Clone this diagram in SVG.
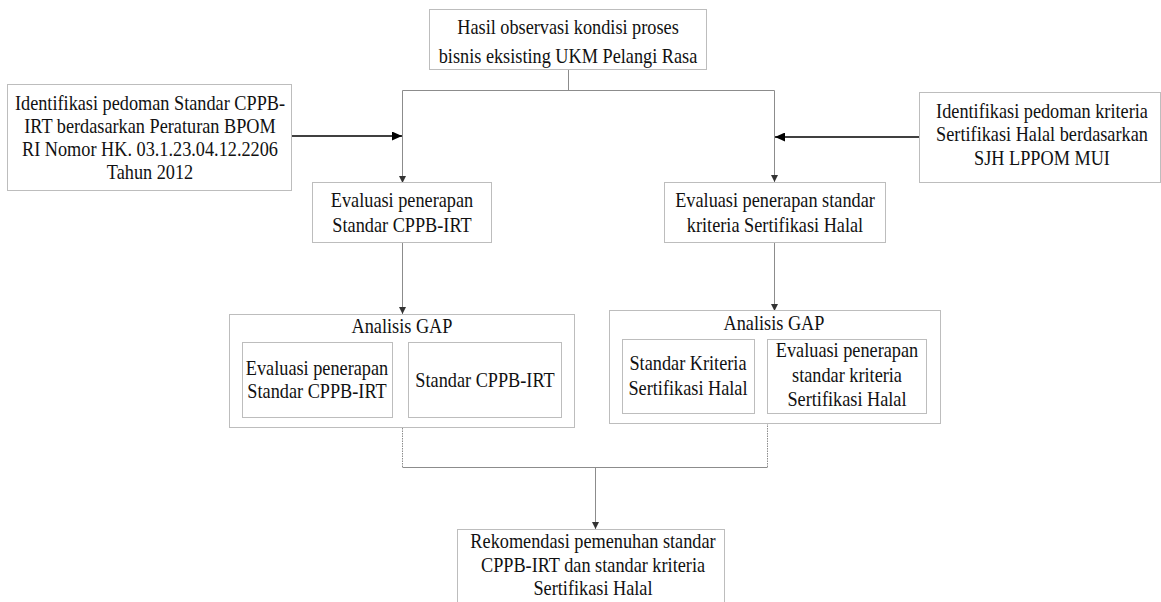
<svg xmlns="http://www.w3.org/2000/svg" width="1161" height="602" viewBox="0 0 1161 602">
<style>
.box{fill:#fff;stroke:#bdbdbd;stroke-width:1}
.t{font-family:"Liberation Serif","Times New Roman",serif;font-size:22px;fill:#111;text-anchor:middle}
.c{fill:none;stroke:#8c8c8c;stroke-width:1}
.d{fill:none;stroke:#8c8c8c;stroke-width:1;stroke-dasharray:1.5 1}
.k{fill:none;stroke:#000;stroke-width:1.5}
</style>
<defs>
<marker id="ag" markerUnits="userSpaceOnUse" markerWidth="7" markerHeight="7" refX="7" refY="3.5" orient="auto"><path d="M0,0 L7,3.5 L0,7 z" fill="#333"/></marker>
<marker id="ak" markerUnits="userSpaceOnUse" markerWidth="10" markerHeight="9" refX="10" refY="4.5" orient="auto"><path d="M0,0 L10,4.5 L0,9 z" fill="#000"/></marker>
</defs>
<rect width="1161" height="602" fill="#fff"/>
<g id="connectors">
<path class="c" d="M568.5,69 V90.5"/>
<path class="c" d="M402.5,90.5 H774.5"/>
<path class="c" d="M402.5,90.5 V183" marker-end="url(#ag)"/>
<path class="c" d="M774.5,90.5 V182" marker-end="url(#ag)"/>
<path class="k" d="M291,136 H402" marker-end="url(#ak)"/>
<path class="k" d="M919,137 H775" marker-end="url(#ak)"/>
<path class="c" d="M402.5,243 V314" marker-end="url(#ag)"/>
<path class="c" d="M774.5,243 V311" marker-end="url(#ag)"/>
<path class="d" d="M402.5,428 V467"/>
<path class="d" d="M767.5,423 V467"/>
<path class="c" d="M402.5,467.5 H767.5"/>
<path class="c" d="M595.5,467.5 V529" marker-end="url(#ag)"/>
</g>
<g id="n-top">
<rect class="box" x="429.5" y="9.5" width="277" height="60"/>
<text class="t" transform="translate(568,0) scale(0.83,1)"><tspan x="0" y="34">Hasil observasi kondisi proses</tspan><tspan x="0" y="63">bisnis eksisting UKM Pelangi Rasa</tspan></text>
</g>
<g id="n-left">
<rect class="box" x="7.5" y="84.5" width="284" height="106"/>
<text class="t" transform="translate(150,0) scale(0.83,1)"><tspan x="0" y="110">Identifikasi pedoman Standar CPPB-</tspan><tspan x="0" y="133">IRT berdasarkan Peraturan BPOM</tspan><tspan x="0" y="156">RI Nomor HK. 03.1.23.04.12.2206</tspan><tspan x="0" y="179">Tahun 2012</tspan></text>
</g>
<g id="n-right">
<rect class="box" x="919.5" y="92.5" width="241" height="90"/>
<text class="t" transform="translate(1042,0) scale(0.83,1)"><tspan x="0" y="118">Identifikasi pedoman kriteria</tspan><tspan x="0" y="141">Sertifikasi Halal berdasarkan</tspan><tspan x="0" y="165">SJH LPPOM MUI</tspan></text>
</g>
<g id="n-eval-cppb">
<rect class="box" x="312.5" y="182.5" width="179" height="60"/>
<text class="t" transform="translate(402,0) scale(0.83,1)"><tspan x="0" y="207">Evaluasi penerapan</tspan><tspan x="0" y="232">Standar CPPB-IRT</tspan></text>
</g>
<g id="n-eval-halal">
<rect class="box" x="664.5" y="182.5" width="221" height="60"/>
<text class="t" transform="translate(775,0) scale(0.83,1)"><tspan x="0" y="207">Evaluasi penerapan standar</tspan><tspan x="0" y="232">kriteria Sertifikasi Halal</tspan></text>
</g>
<g id="n-gap-cppb">
<rect class="box" x="229.5" y="314.5" width="345" height="113"/>
<text class="t" transform="translate(402,0) scale(0.83,1)"><tspan x="0" y="333">Analisis GAP</tspan></text>
<rect class="box" x="242.5" y="342.5" width="150" height="75"/>
<text class="t" transform="translate(317,0) scale(0.83,1)"><tspan x="0" y="375">Evaluasi penerapan</tspan><tspan x="0" y="398">Standar CPPB-IRT</tspan></text>
<rect class="box" x="408.5" y="342.5" width="153" height="75"/>
<text class="t" transform="translate(485,0) scale(0.83,1)"><tspan x="0" y="387">Standar CPPB-IRT</tspan></text>
</g>
<g id="n-gap-halal">
<rect class="box" x="609.5" y="310.5" width="331" height="113"/>
<text class="t" transform="translate(774,0) scale(0.83,1)"><tspan x="0" y="330">Analisis GAP</tspan></text>
<rect class="box" x="622.5" y="339.5" width="132" height="74"/>
<text class="t" transform="translate(688,0) scale(0.83,1)"><tspan x="0" y="370">Standar Kriteria</tspan><tspan x="0" y="395">Sertifikasi Halal</tspan></text>
<rect class="box" x="767.5" y="339.5" width="159" height="74"/>
<text class="t" transform="translate(847,0) scale(0.83,1)"><tspan x="0" y="357">Evaluasi penerapan</tspan><tspan x="0" y="382">standar kriteria</tspan><tspan x="0" y="406">Sertifikasi Halal</tspan></text>
</g>
<g id="n-rekomendasi">
<rect class="box" x="457.5" y="529.5" width="267" height="80"/>
<text class="t" transform="translate(593,0) scale(0.83,1)"><tspan x="0" y="548">Rekomendasi pemenuhan standar</tspan><tspan x="0" y="572">CPPB-IRT dan standar kriteria</tspan><tspan x="0" y="595">Sertifikasi Halal</tspan></text>
</g>
</svg>
